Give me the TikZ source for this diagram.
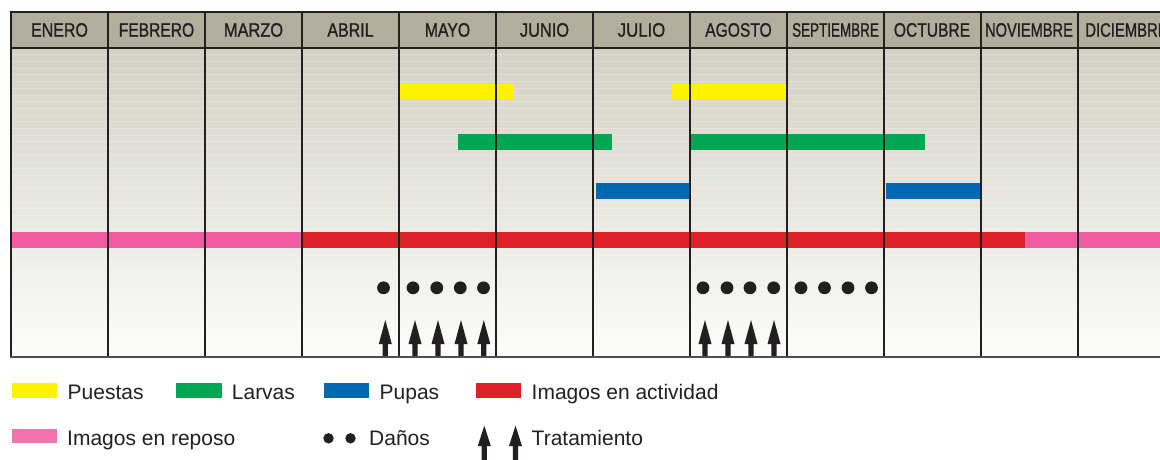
\documentclass[tikz,border=0pt]{standalone}
\usepackage{fontspec}
\setmainfont{Liberation Sans}
\newfontfamily\hdfont[FakeBold=1.2]{Liberation Sans}
\definecolor{hdr}{RGB}{177,174,157}
\definecolor{bodyA}{RGB}{210,209,198}
\definecolor{bodyB}{RGB}{233,233,227}
\definecolor{bodyC}{RGB}{252,252,250}
\definecolor{ink}{RGB}{35,31,32}
\definecolor{yel}{RGB}{255,242,0}
\definecolor{grn}{RGB}{0,166,81}
\definecolor{blu}{RGB}{0,104,179}
\definecolor{redc}{RGB}{220,33,39}
\definecolor{pnk}{RGB}{240,91,161}
\definecolor{pnkl}{RGB}{242,116,172}
\tikzset{
  gridline/.style={draw=ink, line width=1.4pt},
  hdtext/.style={anchor=base, text=ink, font=\hdfont\fontsize{19.5}{20}\selectfont, inner sep=0pt},
  lgtext/.style={anchor=base west, text=ink, font=\fontsize{21}{22}\selectfont, inner sep=0pt},
  dot/.style={fill=ink},
}
\newcommand\myarrow[4]{% x, tip, base, bottom
  \fill[ink] ({#1-2.6},#4) -- ({#1-2.6},#3) -- ({#1-6.5},#3) -- (#1,#2) -- ({#1+6.5},#3) -- ({#1+2.6},#3) -- ({#1+2.6},#4) -- cycle;}
\begin{document}
\begin{tikzpicture}[x=1pt,y=-1pt]
\useasboundingbox (0,0) rectangle (1160,460);
\begin{scope}
\clip (0,0) rectangle (1160,460);
% body background
\shade[top color=bodyA, middle color=bodyB, bottom color=bodyC] (11,48) rectangle (1180,357);
\foreach \i in {0,...,38} \draw[white, opacity=0.22, line width=0.7pt] (11,{48+6.7*\i}) -- (1180,{48+6.7*\i});
% header
\fill[hdr] (11,12) rectangle (1180,48);
% bars
\fill[yel] (399,84) rectangle (514,100);
\fill[yel] (672,84) rectangle (787,100);
\fill[grn] (458,134) rectangle (612,150);
\fill[grn] (691,134) rectangle (925,150);
\fill[blu] (596,183) rectangle (690,199);
\fill[blu] (886,183) rectangle (980,199);
\fill[pnk] (11,232) rectangle (302,248);
\fill[redc] (302,232) rectangle (1025,248);
\fill[pnk] (1025,232) rectangle (1180,248);
% dots
\foreach \x in {383.5,413,436.8,460.3,483.5,703,727,750,773.7,801,824.5,848,871.5}
  \fill[dot] (\x,287.8) circle (6.4);
% arrows
\foreach \x in {385.3,415,438,461,483.8,705,728,751,774}
  \myarrow{\x}{320}{344}{357}
% grid
\foreach \k in {0,...,11} \draw[gridline] ({11+97*\k},12) -- ({11+97*\k},357);
\draw[gridline] (10.3,12) -- (1180,12);
\draw[gridline] (11,48) -- (1180,48);
\draw[draw=ink!80, line width=1.8pt] (10.1,357) -- (1180,357);
% month labels
\node[hdtext] (m1) at (59.5,36.7) {\scalebox{0.82}[1]{ENERO}};
\node[hdtext] (m2) at (156.5,36.7) {\scalebox{0.80}[1]{FEBRERO}};
\node[hdtext] (m3) at (253.5,36.7) {\scalebox{0.84}[1]{MARZO}};
\node[hdtext] (m4) at (350.5,36.7) {\scalebox{0.82}[1]{ABRIL}};
\node[hdtext] (m5) at (447.5,36.7) {\scalebox{0.81}[1]{MAYO}};
\node[hdtext] (m6) at (544.5,36.7) {\scalebox{0.84}[1]{JUNIO}};
\node[hdtext] (m7) at (641.5,36.7) {\scalebox{0.86}[1]{JULIO}};
\node[hdtext] (m8) at (738.5,36.7) {\scalebox{0.80}[1]{AGOSTO}};
\node[hdtext] (m9) at (835.5,36.7) {\scalebox{0.69}[1]{SEPTIEMBRE}};
\node[hdtext] (m10) at (932,36.7) {\scalebox{0.80}[1]{OCTUBRE}};
\node[hdtext] (m11) at (1029,36.7) {\scalebox{0.75}[1]{NOVIEMBRE}};
\node[hdtext] (m12) at (1126.5,36.7) {\scalebox{0.76}[1]{DICIEMBRE}};
\end{scope}
% legend
\fill[yel] (11.5,383) rectangle (56.7,397.7);
\node[lgtext] (l1) at (67.5,399) {Puestas};
\fill[grn] (176,383) rectangle (221.7,397.7);
\node[lgtext] (l2) at (231.7,399) {Larvas};
\fill[blu] (324,383) rectangle (369,397.7);
\node[lgtext] (l3) at (379.5,399) {Pupas};
\fill[redc] (475.7,383) rectangle (520.7,397.7);
\node[lgtext] (l4) at (531.5,399) {Imagos en actividad};
\fill[pnkl] (11.5,429) rectangle (56.7,443.3);
\node[lgtext] (l5) at (67,445) {Imagos en reposo};
\fill[dot] (328.5,438.3) circle (5.2);
\fill[dot] (350.5,438.3) circle (5.2);
\node[lgtext] (l6) at (369,445) {Daños};
\begin{scope}
\clip (0,0) rectangle (1160,460);
\myarrow{484.3}{425.7}{446}{462}
\myarrow{515.5}{425.7}{446}{462}
\end{scope}
\node[lgtext] (l7) at (531.5,445) {Tratamiento};
\end{tikzpicture}
\end{document}
